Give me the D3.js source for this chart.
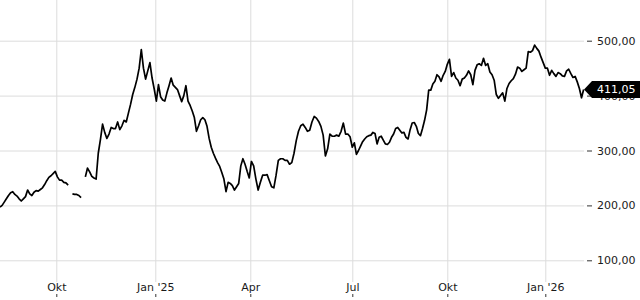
<!DOCTYPE html>
<html>
<head>
<meta charset="utf-8">
<script src="https://cdn.jsdelivr.net/npm/d3@7"></script>
<style>
    html, body { margin: 0; padding: 0; background: #fff; }
    svg { display: block; }
</style>
</head>
<body>
<div id="chart"></div>
<script>
// price series, one value every 2 days starting 9 Aug 2024 (null = no data)
const startDate = new Date(2024, 7, 9);
const stepDays = 2;
const closes = [
    197, 200, 206, 212, 218, 223, 225, 220, 217, 212,
    208, 212, 216, 228, 221, 218, 224, 227, 226, 229,
    232, 238, 245, 251, 254, 258, 262, 252, 246, 246,
    242, 241, 237, null, 221, 220, 220, 218, 214, null,
    252, 268, 261, 253, 250, 248, 295, 320, 348, 333,
    322, 330, 342, 340, 340, 352, 338, 345, 355, 352,
    368, 384, 402, 415, 430, 450, 484, 450, 430, 445,
    460, 432, 412, 390, 420, 398, 392, 390, 405, 418,
    432, 419, 415, 411, 400, 389, 400, 418, 390, 382,
    372, 360, 335, 345, 356, 360, 356, 344, 322, 306,
    295, 286, 278, 271, 260, 248, 225, 242, 240, 236,
    228, 234, 240, 272, 285, 275, 262, 250, 280, 272,
    248, 228, 242, 255, 255, 256, 245, 234, 232, 255,
    282, 285, 285, 282, 282, 275, 278, 295, 318, 335,
    345, 348, 342, 335, 337, 352, 362, 359, 353, 344,
    328, 290, 303, 330, 326, 326, 328, 326, 335, 350,
    330, 330, 325, 306, 314, 293, 300, 308, 316, 321,
    325, 327, 328, 333, 331, 312, 324, 326, 319, 312,
    311, 315, 324, 330, 340, 342, 337, 332, 333, 324,
    321, 338, 350, 351, 344, 331, 327, 340, 355, 374,
    410, 410, 421, 426, 438, 434, 426, 437, 444, 457,
    466, 435, 442, 432, 428, 418, 430, 432, 437, 445,
    438, 420, 446, 456, 458, 455, 468, 455, 458, 443,
    438, 428, 402, 395, 400, 405, 390, 413, 422, 427,
    431, 439, 452, 450, 444, 447, 450, 480, 479, 482,
    492, 486, 481, 470, 460, 450, 450, 437, 446, 440,
    435, 442, 440, 436, 435, 445, 448, 440, 433, 435,
    425, 413, 396, 411.05
];

// axes
const xTickDates = [
    new Date(2024, 9, 1), new Date(2025, 0, 1), new Date(2025, 3, 1),
    new Date(2025, 6, 1), new Date(2025, 9, 1), new Date(2026, 0, 1)
];
const xTickLabels = ["Okt", "Jan '25", "Apr", "Jul", "Okt", "Jan '26"];
const yTicks = [100, 200, 300, 400, 500];

const width = 640;
const height = 300;
const gridRight = 584;
const axisX = 587;
const gridBottom = 282;
const fontFamily = "DejaVu Sans, sans-serif";

const data = closes.map((v, i) => ({
    date: d3.timeDay.offset(startDate, i * stepDays),
    value: v,
}));

// x scale: piecewise so quarters land where the original axis puts them
const x = d3
    .scaleTime()
    .domain([startDate, ...xTickDates])
    .range([0, 56.3, 155.3, 250.3, 352.3, 447.3, 545.3]);

const y = d3.scaleLinear().domain([100, 500]).range([260.3, 40.7]);

const de = d3.formatLocale({
    decimal: ",",
    thousands: ".",
    grouping: [3],
    currency: ["", " €"],
});
const fmt = de.format(".2f");

const svg = d3
    .select("#chart")
    .append("svg")
    .attr("width", width)
    .attr("height", height)
    .attr("viewBox", `0 0 ${width} ${height}`);

// vertical grid lines
svg.append("g")
    .call(d3.axisBottom(x).tickValues(xTickDates).tickSize(gridBottom).tickFormat(""))
    .call((g) => g.select(".domain").remove())
    .call((g) => g.selectAll(".tick line").attr("stroke", "#dcdcdc"));

// horizontal grid lines
svg.append("g")
    .attr("transform", `translate(${gridRight},0)`)
    .call(d3.axisLeft(y).tickValues(yTicks).tickSize(gridRight).tickFormat(""))
    .call((g) => g.select(".domain").remove())
    .call((g) => g.selectAll(".tick line").attr("stroke", "#dcdcdc"));

// right axis with labels
svg.append("g")
    .attr("transform", `translate(${axisX},0)`)
    .call(d3.axisRight(y).tickValues(yTicks).tickSize(5).tickPadding(5).tickFormat(fmt))
    .call((g) => g.select(".domain").remove())
    .call((g) => g.selectAll(".tick line").attr("stroke", "#333"))
    .call((g) =>
        g.selectAll(".tick text")
            .attr("fill", "#1a1a1a")
            .style("font-family", fontFamily)
            .style("font-size", "11px"),
    );

// bottom axis: labels sit above the small tick marks
svg.append("g")
    .attr("transform", `translate(0,297)`)
    .call(
        d3.axisTop(x)
            .tickValues(xTickDates)
            .tickSize(3)
            .tickPadding(3)
            .tickFormat((d, i) => xTickLabels[i]),
    )
    .call((g) => g.select(".domain").remove())
    .call((g) => g.selectAll(".tick line").attr("stroke", "#333"))
    .call((g) =>
        g.selectAll(".tick text")
            .attr("fill", "#1a1a1a")
            .style("font-family", fontFamily)
            .style("font-size", "11px"),
    );

// price line
const line = d3
    .line()
    .defined((d) => d.value != null)
    .x((d) => x(d.date))
    .y((d) => y(d.value));

svg.append("path")
    .datum(data)
    .attr("fill", "none")
    .attr("stroke", "#000")
    .attr("stroke-width", 1.7)
    .attr("stroke-linejoin", "round")
    .attr("d", line);

// last value badge
const last = data[data.length - 1];
const ly = y(last.value);
const tipX = gridRight;
const boxLeft = gridRight + 8;
const halfH = 8.5;

svg.append("path")
    .attr(
        "d",
        `M${tipX},${ly} L${boxLeft},${ly - halfH} L${width},${ly - halfH} L${width},${ly + halfH} L${boxLeft},${ly + halfH} Z`,
    )
    .attr("fill", "#000");

svg.append("text")
    .attr("x", axisX + 10)
    .attr("y", ly)
    .attr("dy", "0.32em")
    .attr("fill", "#fff")
    .style("font-family", fontFamily)
    .style("font-size", "11px")
    .text(fmt(last.value));
</script>
</body>
</html>
